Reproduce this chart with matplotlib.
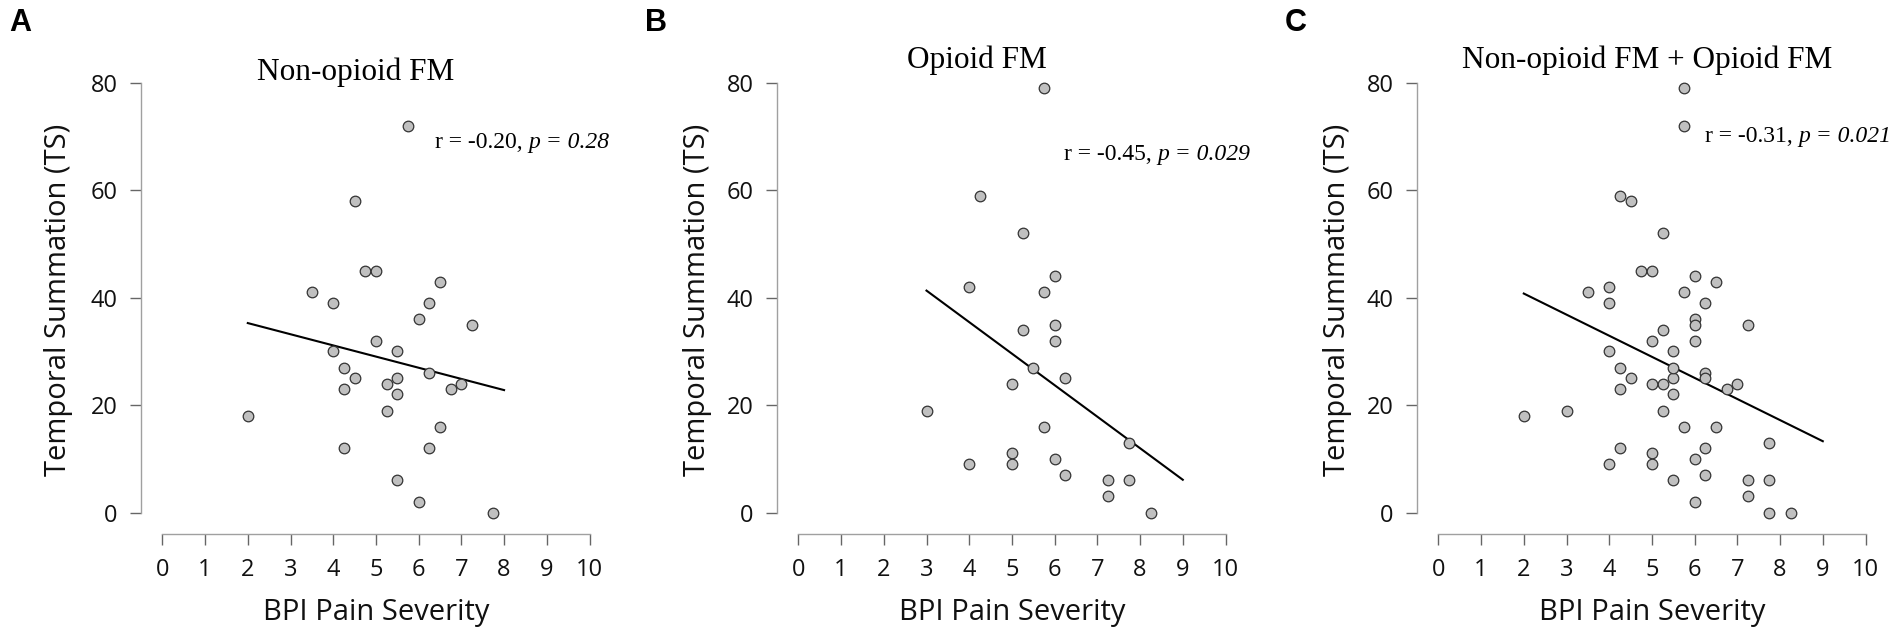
import numpy as np
import matplotlib
matplotlib.use("Agg")
import matplotlib.pyplot as plt

plt.rcParams['font.family'] = ['Open Sans', 'DejaVu Sans']

# BPI pain severity (x) and temporal summation (y)
nonopioid_x = [5.75, 4.5, 4.75, 5.0, 6.5, 3.5, 4.0, 6.25, 6.0, 7.25,
               5.0, 4.0, 5.5, 4.25, 6.25, 4.5, 5.5, 5.25, 7.0, 4.25,
               6.75, 5.5, 5.25, 2.0, 6.5, 4.25, 6.25, 5.5, 6.0, 7.75]
nonopioid_y = [72, 58, 45, 45, 43, 41, 39, 39, 36, 35,
               32, 30, 30, 27, 26, 25, 25, 24, 24, 23,
               23, 22, 19, 18, 16, 12, 12, 6, 2, 0]

opioid_x = [3.0, 4.25, 4.0, 5.25, 5.25, 5.5, 5.0, 5.75, 5.75, 5.75,
            4.0, 5.0, 5.0, 6.25, 6.0, 6.25, 7.25, 7.25, 7.75, 7.75,
            8.25, 6.0, 6.0, 6.0]
opioid_y = [19, 59, 42, 52, 34, 27, 24, 79, 41, 16,
            9, 11, 9, 25, 10, 7, 6, 3, 13, 6,
            0, 44, 35, 32]

titles = ['Non-opioid FM', 'Opioid FM', 'Non-opioid FM + Opioid FM']
letters = ['A', 'B', 'C']
r_text = ['-0.20', '-0.45', '-0.31']
p_text = ['0.28', '0.029', '0.021']

xs = [nonopioid_x, opioid_x, nonopioid_x + opioid_x]
ys = [nonopioid_y, opioid_y, nonopioid_y + opioid_y]

W, H = 1902, 640
fig = plt.figure(figsize=(W / 100, H / 100), dpi=100)

lefts = [141, 777, 1417]          # pixel positions of the y spines
title_pos = [(356, 80), (977, 68), (1647, 68)]
letter_pos = [9, 645, 1285]
ann_pos = [(6.38, 67.9), (6.21, 65.6), (6.24, 69.0)]
ylab_x = [-0.183, -0.178, -0.178]

for i in range(3):
    ax = fig.add_axes([lefts[i] / W, 106 / H, 448.5 / W, 451 / H])
    x = np.array(xs[i], dtype=float)
    y = np.array(ys[i], dtype=float)

    ax.scatter(x, y, s=58, facecolor='#c0c0c0', edgecolor='#333333',
               linewidth=0.9, zorder=3, clip_on=False)

    # least squares line over the data range
    b, a = np.polyfit(x, y, 1)
    xl = np.array([np.floor(x.min()), np.ceil(x.max())])
    ax.plot(xl, a + b * xl, color='black', lw=1.5, zorder=2, clip_on=False)

    ax.set_xlim(-0.5, 10)
    ax.set_ylim(-4, 80)
    ax.set_xticks(range(0, 11))
    ax.set_yticks(range(0, 81, 20))
    for s in ['top', 'right']:
        ax.spines[s].set_visible(False)
    ax.spines['left'].set_bounds(0, 80)
    ax.spines['bottom'].set_bounds(0, 10)
    for s in ['left', 'bottom']:
        ax.spines[s].set_color('#a0a0a0')
        ax.spines[s].set_linewidth(1.0)
    ax.tick_params(length=8, width=1, color='#666666', labelsize=17,
                   pad=9, labelcolor='#111111')

    ax.set_xlabel('BPI Pain Severity', fontsize=21, color='#111111')
    ax.xaxis.label.set_va('center')
    ax.xaxis.set_label_coords(0.524, -0.175)
    ax.set_ylabel('Temporal Summation (TS)', fontsize=21, color='#111111')
    ax.yaxis.label.set_va('center')
    ax.yaxis.set_label_coords(ylab_x[i], 0.52)

    # "r = ..., " upright, "p = ..." italic, chained one after the other
    t1 = ax.text(ann_pos[i][0], ann_pos[i][1], 'r = ' + r_text[i] + ',',
                 family='Liberation Serif', fontsize=17, va='baseline',
                 ha='left')
    ax.annotate('p = ' + p_text[i], xy=(1, 0), xycoords=t1,
                xytext=(4, 0), textcoords='offset points',
                family='Liberation Serif', style='italic', fontsize=17,
                va='bottom', ha='left')

    fig.text(title_pos[i][0] / W, 1 - title_pos[i][1] / H, titles[i],
             family='Liberation Serif', fontsize=22.5, ha='center',
             va='baseline')
    fig.text(letter_pos[i] / W, 1 - 8 / H, letters[i],
             family='Liberation Sans', fontweight='bold', fontsize=22,
             ha='left', va='top')

fig.savefig('out.png', dpi=100)
